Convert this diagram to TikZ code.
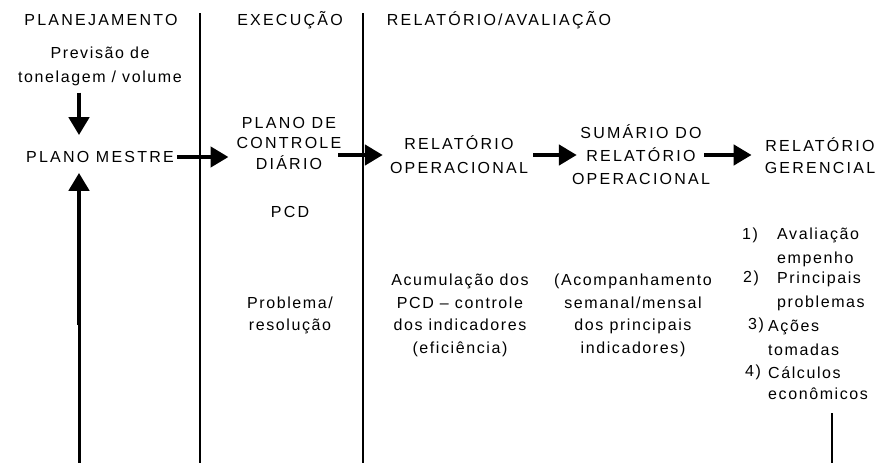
\documentclass[tikz,border=0pt]{standalone}
\usepackage{fontspec}
\setmainfont{Liberation Sans}[LetterSpace=10]
\newfontfamily\capf{Liberation Sans}[LetterSpace=14]
\usetikzlibrary{arrows.meta}
\tikzset{
  txt/.style={inner sep=0pt, align=center, font=\fontsize{16}{22.5}\selectfont},
  capsbox/.style={txt, font=\capf\fontsize{16}{22.5}\selectfont},
  divider/.style={line width=1.4pt},
  bigarrow/.style={line width=4.5pt, -{Triangle[length=18pt,width=20pt]}},
  thinup/.style={line width=3pt},
  smallline/.style={line width=1.6pt}
}
\begin{document}
\begin{tikzpicture}[x=1pt,y=-1pt]
\useasboundingbox (0,0) rectangle (884,463);
% dividers
\coordinate (d1t) at (200,13); \coordinate (d1b) at (200,463);
\coordinate (d2t) at (363,13); \coordinate (d2b) at (363,463);
\draw[divider] (d1t) -- (d1b);
\draw[divider] (d2t) -- (d2b);
% headers
\node[capsbox] (h1) at (101,20) {PLANEJAMENTO};
\node[capsbox] (h2) at (290,20) {EXECUÇÃO};
\node[capsbox] (h3) at (499,20) {RELATÓRIO/AVALIAÇÃO};
% column 1
\node[txt, font=\fontsize{16}{24}\selectfont] (prev) at (100,66) {Previsão de\\tonelagem / volume};
\node[capsbox] (mestre) at (100,157) {PLANO MESTRE};
% column 2
\node[capsbox, font=\capf\fontsize{16}{20.5}\selectfont] (diario) at (289,143) {PLANO DE\\CONTROLE\\DIÁRIO};
\node[capsbox] (pcd) at (290,212) {PCD};
\node[txt, font=\fontsize{16}{22}\selectfont] (probl) at (290,315) {Problema/\\resolução};
% column 3
\node[capsbox, font=\capf\fontsize{16}{24}\selectfont] (relop) at (459,155) {RELATÓRIO\\OPERACIONAL};
\node[capsbox, font=\capf\fontsize{16}{23}\selectfont] (sumario) at (641,155) {SUMÁRIO DO\\RELATÓRIO\\OPERACIONAL};
\node[capsbox, font=\capf\fontsize{16}{22}\selectfont] (relger) at (820,156) {RELATÓRIO\\GERENCIAL};
\node[txt, font=\fontsize{16}{22.7}\selectfont] (acum) at (460,315.5) {Acumulação dos\\PCD -- controle\\dos indicadores\\(eficiência)};
\node[txt, font=\fontsize{16}{22.7}\selectfont] (acomp) at (633,315.5) {(Acompanhamento\\semanal/mensal\\dos principais\\indicadores)};
% list
\node[txt, anchor=west] (n1) at (742,235) {1)};
\node[txt, anchor=west] (n2) at (743,278) {2)};
\node[txt, anchor=west] (n3) at (748,325) {3)};
\node[txt, anchor=west] (n4) at (745,372) {4)};
\node[txt, align=left, anchor=west, font=\fontsize{16}{24}\selectfont] (t1) at (777,247.5) {Avaliação\\empenho};
\node[txt, align=left, anchor=west, font=\fontsize{16}{24}\selectfont] (t2) at (777,291) {Principais\\problemas};
\node[txt, align=left, anchor=west, font=\fontsize{16}{24}\selectfont] (t3) at (768,337.5) {Ações\\tomadas};
\node[txt, align=left, anchor=west, font=\fontsize{16}{21}\selectfont] (t4) at (768,383) {Cálculos\\econômicos};
\coordinate (lt) at (832,413); \coordinate (lb) at (832,463);
\draw[smallline] (lt) -- (lb);
% arrows
\draw[bigarrow] ([xshift=-21pt,yshift=-7pt]prev.south) -- ([xshift=-21pt,yshift=16pt]mestre.north);
\coordinate (upb) at (79,463); \coordinate (upm) at (79,325);
\draw[thinup] (upb) -- (upm);
\draw[bigarrow] (upm) -- ([xshift=-21pt,yshift=-10pt]mestre.south);
\draw[bigarrow, shorten <=3pt, shorten >=8pt] (mestre.east) -- (mestre.east -| diario.west);
\draw[bigarrow, shorten <=-3pt, shorten >=7pt] (diario.east |- relop.west) -- (relop.west);
\draw[bigarrow, shorten <=5pt, shorten >=-5pt] (relop.east) -- (relop.east -| sumario.west);
\draw[bigarrow, shorten <=-6pt, shorten >=13pt] (sumario.east) -- (sumario.east -| relger.west);
\end{tikzpicture}
\end{document}
